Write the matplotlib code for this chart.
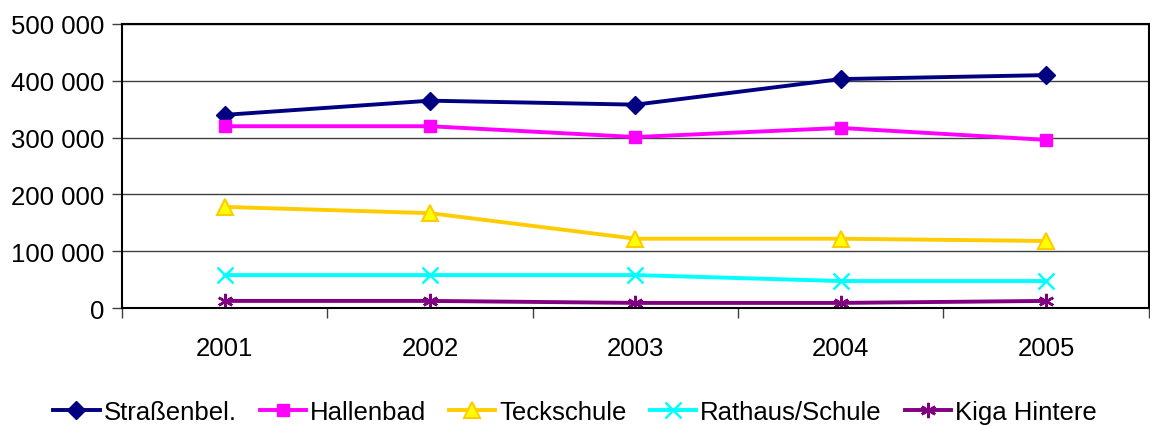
import numpy as np
import matplotlib.pyplot as plt
from matplotlib.ticker import FuncFormatter, FixedLocator

plt.rcParams["font.family"] = ["Liberation Sans", "DejaVu Sans"]

years = ["2001", "2002", "2003", "2004", "2005"]
strassen = [340000, 365000, 358000, 403000, 410000]
hallenbad = [320000, 320000, 301000, 317000, 296000]
teckschule = [178000, 167000, 122000, 122000, 118000]
rathaus = [58000, 58000, 58000, 47500, 47500]
kiga = [12500, 12500, 9000, 9000, 12500]

series = [
    ("Straßenbel.", strassen, dict(color="#000080", marker="D", ms=9, mfc="#000080", mec="#000080")),
    ("Hallenbad", hallenbad, dict(color="#FF00FF", marker="s", ms=9, mfc="#FF00FF", mec="#FF00FF")),
    ("Teckschule", teckschule, dict(color="#FFCC00", marker="^", ms=11, mfc="#FFFF00", mec="#FFCC00", mew=1.5)),
    ("Rathaus/Schule", rathaus, dict(color="#00FFFF", marker="x", ms=11, mec="#00FFFF", mew=1.8)),
    ("Kiga Hintere", kiga, dict(color="#800080", marker=(6, 2, 0), ms=11, mec="#800080", mew=1.8)),
]

fig = plt.figure(figsize=(11.5, 4.27), dpi=100)
ax = fig.add_axes([0.1061, 0.2763, 0.8929, 0.6652])

x = np.arange(len(years))
for name, vals, style in series:
    ax.plot(x, vals, lw=2.8, label=name, **style)

ax.set_xlim(-0.5, len(years) - 0.5)
ax.set_ylim(0, 500000)
ax.set_yticks(np.arange(0, 500001, 100000))
ax.yaxis.set_major_formatter(FuncFormatter(lambda v, p: f"{int(v):,}".replace(",", " ")))
ax.yaxis.grid(True, color="#404040", lw=1)
ax.set_axisbelow(True)

ax.set_xticks(x)
ax.set_xticklabels(years)
ax.xaxis.set_minor_locator(FixedLocator(np.arange(-0.5, len(years))))
ax.tick_params(axis="x", which="major", length=0, pad=20, labelsize=18.5)
ax.tick_params(axis="x", which="minor", length=7, width=1, color="#404040")
ax.tick_params(axis="y", length=7, width=1, color="#404040", labelsize=18.5, pad=6)

for s in ax.spines.values():
    s.set_color("black")
    s.set_linewidth(1.5)

ax.legend(loc="center", bbox_to_anchor=(0.441, -0.365), ncol=5, frameon=False,
          fontsize=18.5, handlelength=1.8, handletextpad=0.15, columnspacing=0.9,
          borderaxespad=0)

fig.savefig("out.png", dpi=100)
